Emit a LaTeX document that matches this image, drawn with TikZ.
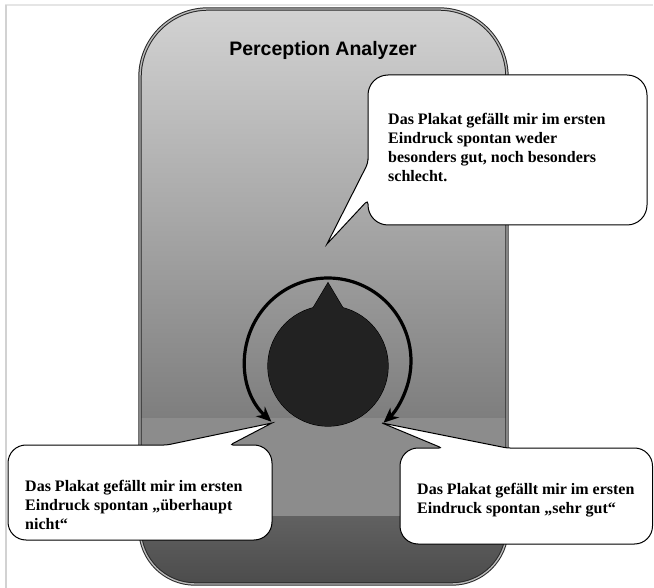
\documentclass[tikz,border=0pt]{standalone}
\usepackage{fontspec}
\setmainfont{Liberation Serif}
\newfontfamily\titlefont{Liberation Sans}
\usetikzlibrary{arrows.meta,calc}

\definecolor{devtop}{HTML}{D4D4D4}
\definecolor{devmid}{HTML}{7E7E7E}
\definecolor{devband}{HTML}{8C8C8C}
\definecolor{devlow}{HTML}{616161}
\definecolor{devbot}{HTML}{4A4A4A}
\definecolor{knobgray}{HTML}{222222}

\tikzset{
  bubble/.style={draw=black, line width=1pt, fill=white},
  bubbletext/.style={anchor=north west, inner sep=0pt, align=left,
    font=\fontsize{16}{19}\selectfont\bfseries},
  turn/.style={line width=3.2pt, {Stealth[length=15pt,width=13pt]}-{Stealth[length=15pt,width=13pt]}}
}

\begin{document}
\begin{tikzpicture}[x=1pt,y=-1pt]
\useasboundingbox (0,0) rectangle (654,588);
% page frame
\draw[gray!20, line width=1.5pt] (5,5) -- (653,5);
\draw[gray!35, line width=1.2pt] (6,5) -- (6,588);

% device body
\begin{scope}
  \clip (140,300) [rounded corners=68pt] |- (507,9) -- (507,300) [rounded corners=55pt] |- (140,584) -- cycle;
  \shade[top color=devtop, bottom color=devmid] (130,0) rectangle (520,418);
  \fill[devband] (130,418) rectangle (520,516);
  \shade[top color=devlow, bottom color=devbot] (130,516) rectangle (520,590);
\end{scope}
\draw[draw=black!85, double=gray!55, double distance=1.4pt, line width=1pt]
  (140,300) [rounded corners=68pt] |- (507,9) -- (507,300) [rounded corners=55pt] |- (140,584) -- cycle;

\node[font=\titlefont\bfseries\fontsize{19.5}{22}\selectfont] (title) at (323,50) {Perception Analyzer};

% knob
\coordinate (dial) at (328,361);
\coordinate (tip) at (328,283);
\filldraw[knobgray, draw=black, line width=1.2pt] (328,366) circle[radius=60];
\filldraw[knobgray, draw=black, line width=1.2pt] (tip) -- (309,315) -- (347,315) -- cycle;
\fill[knobgray] (328,366) circle[radius=60];
\fill[knobgray] (tip) -- (309,315) -- (347,315) -- cycle;
\draw[turn] ($(dial)+(133:83)$) arc[start angle=133, end angle=408, radius=83];

% callouts
\draw[bubble] (368,140) [rounded corners=4pt] -- (368,163) [sharp corners] -- (327,244)
  [rounded corners=4pt] -- (368,200) [rounded corners=20pt] -- (368,225) -- (647,225) -- (647,75) -- (368,75) -- cycle;
\draw[bubble] (8,480) [rounded corners=18pt] -- (8,445) [rounded corners=3pt] -- (167,445) [sharp corners] -- (272,423)
  [rounded corners=3pt] -- (230,445) [rounded corners=18pt] -- (272,445) -- (272,540) -- (8,540) -- cycle;
\draw[bubble] (400,490) [rounded corners=18pt] -- (400,448) [rounded corners=3pt] -- (442,448) [sharp corners] -- (382,423)
  [rounded corners=3pt] -- (507,448) [rounded corners=18pt] -- (652.5,448) -- (652.5,544) -- (400,544) -- cycle;

\node[bubbletext] (neutral) at (388,113) {Das Plakat gefällt mir im ersten\\Eindruck spontan weder\\besonders gut, noch besonders\\schlecht.};
\node[bubbletext] (worst) at (25,480) {Das Plakat gefällt mir im ersten\\Eindruck spontan „überhaupt\\nicht“};
\node[bubbletext] (best) at (417,483) {Das Plakat gefällt mir im ersten\\Eindruck spontan „sehr gut“};
\end{tikzpicture}
\end{document}
